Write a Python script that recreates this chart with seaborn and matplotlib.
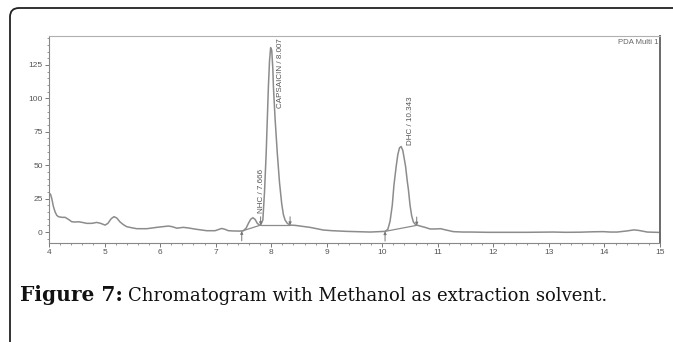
import matplotlib
matplotlib.use('Agg')
import matplotlib.pyplot as plt
import seaborn as sns
from matplotlib.patches import FancyBboxPatch
from matplotlib.transforms import IdentityTransform
from matplotlib.ticker import MultipleLocator

# retention time (min) and detector signal (mAU)
time = [4.00, 4.03, 4.05, 4.08, 4.11, 4.14, 4.17, 4.23, 4.29, 4.35, 4.41, 4.47, 4.53, 4.60,
        4.68, 4.77, 4.86, 4.93, 5.01, 5.06, 5.12, 5.17, 5.22, 5.28, 5.34, 5.40, 5.49, 5.58,
        5.76, 5.94, 6.05, 6.15, 6.22, 6.30, 6.42, 6.52, 6.63, 6.75, 6.84, 6.99, 7.06, 7.11,
        7.17, 7.23, 7.33, 7.44, 7.50, 7.55, 7.59, 7.63, 7.67, 7.71, 7.75, 7.79, 7.81, 7.85,
        7.88, 7.91, 7.93, 7.95, 7.97, 7.99, 8.01, 8.03, 8.04, 8.07, 8.11, 8.15, 8.19, 8.22,
        8.25, 8.29, 8.34, 8.43, 8.52, 8.61, 8.70, 8.82, 8.94, 9.10, 9.36, 9.60, 9.78, 9.95,
        10.05, 10.10, 10.14, 10.18, 10.21, 10.25, 10.28, 10.31, 10.34, 10.37, 10.40, 10.42,
        10.45, 10.47, 10.50, 10.53, 10.56, 10.60, 10.64, 10.68, 10.77, 10.86, 10.95, 11.05,
        11.15, 11.28, 11.45, 11.59, 11.90, 12.18, 12.60, 13.08, 13.30, 13.57, 13.80, 13.98,
        14.10, 14.23, 14.40, 14.53, 14.62, 14.77, 14.90, 15.00]
signal = [29.4, 28.0, 25.0, 19.0, 15.0, 12.5, 11.5, 11.0, 11.0, 9.5, 7.7, 7.5, 7.7, 7.2,
          6.5, 6.5, 7.2, 6.5, 5.2, 6.5, 10.0, 11.5, 10.5, 7.5, 5.5, 4.0, 3.2, 2.5,
          2.5, 3.5, 4.0, 4.5, 4.0, 2.9, 3.5, 3.0, 2.2, 1.5, 1.0, 1.0, 2.0, 2.7,
          2.0, 1.0, 0.8, 0.7, 1.0, 3.0, 6.5, 9.5, 10.7, 9.5, 6.5, 5.2, 5.2, 9.0,
          30.0, 59.0, 85.0, 109.0, 128.0, 138.0, 136.0, 122.0, 109.0, 85.0, 59.0, 37.0, 21.0, 13.0,
          9.0, 6.5, 5.2, 5.0, 4.5, 4.0, 3.5, 2.5, 1.5, 1.0, 0.5, 0.2, 0.0, 0.3,
          0.5, 2.0, 8.0, 20.0, 35.0, 49.0, 58.0, 63.0, 64.0, 61.0, 54.0, 49.0,
          38.0, 32.0, 20.0, 12.0, 7.5, 5.5, 5.0, 4.5, 3.5, 2.3, 2.3, 2.5,
          1.5, 0.3, 0.0, 0.0, -0.2, -0.2, -0.2, 0.0, -0.2, -0.1, 0.2, 0.3,
          0.0, 0.0, 0.8, 1.6, 1.2, 0.0, -0.2, -0.3]

# integration baselines (start/end of each peak)
base_start_t = [7.47, 7.81, 10.05]
base_start_y = [0.7, 5.2, 0.5]
base_end_t = [7.81, 8.34, 10.62]
base_end_y = [5.2, 5.2, 5.0]

peak_labels = ['NHC / 7.666', 'CAPSAICIN / 8.007', 'DHC / 10.343']
label_t = [7.82, 8.17, 10.51]
label_y = [14, 93, 65]

y_ticks = [0, 25, 50, 75, 100, 125]
x_ticks = list(range(4, 16))

sns.set_style('ticks')
plt.rcParams['font.family'] = ['Liberation Sans', 'DejaVu Sans']

fig = plt.figure(figsize=(6.73, 3.42), dpi=100)
ax = fig.add_axes([49 / 673, 1 - 243 / 342, 611 / 673, 207 / 342])

trace = '#8c8c8c'
sns.lineplot(x=time, y=signal, ax=ax, sort=False, estimator=None, color=trace, lw=1.1)

for t0, y0, t1, y1 in zip(base_start_t, base_start_y, base_end_t, base_end_y):
    ax.plot([t0, t1], [y0, y1], color=trace, lw=0.9)

arrow = dict(arrowstyle='-|>', color='#777777', lw=0.7, mutation_scale=4, shrinkA=0, shrinkB=0)
for t0, y0 in [(7.47, 0.7), (10.05, 0.5)]:
    ax.annotate('', xy=(t0, y0), xytext=(0, -7), textcoords='offset points', arrowprops=arrow)
for t1, y1 in [(7.81, 5.2), (8.34, 5.2), (10.62, 5.0)]:
    ax.annotate('', xy=(t1, y1), xytext=(0, 6), textcoords='offset points', arrowprops=arrow)

for lab, t, y in zip(peak_labels, label_t, label_y):
    ax.text(t, y, lab, rotation=90, ha='center', va='bottom', fontsize=5.8,
            color='#555555', family=['Liberation Sans Narrow', 'Liberation Sans'])

ax.text(0.997, 0.985, 'PDA Multi 1', transform=ax.transAxes, ha='right', va='top',
        fontsize=5.6, color='#666666')

ax.set_xlim(4, 15)
ax.set_ylim(-8.2, 146.7)
ax.set_xticks(x_ticks)
ax.set_yticks(y_ticks)
ax.xaxis.set_minor_locator(MultipleLocator(0.2))
ax.yaxis.set_minor_locator(MultipleLocator(5))
ax.tick_params(which='major', length=3, width=0.7, color='#777777', labelsize=6,
               labelcolor='#555555', pad=1.5)
ax.tick_params(which='minor', length=1.6, width=0.6, color='#888888')
ax.set_xlabel('')
ax.set_ylabel('')

for side in ['left', 'bottom']:
    ax.spines[side].set_color('#888888')
    ax.spines[side].set_linewidth(0.8)
ax.spines['top'].set_color('#b0b0b0')
ax.spines['top'].set_linewidth(0.8)
ax.spines['right'].set_color('#6a6a6a')
ax.spines['right'].set_linewidth(1.4)

# outer frame of the figure box
frame = FancyBboxPatch((10, -30), 700, 364, boxstyle='round,pad=0,rounding_size=9',
                       transform=IdentityTransform(), fill=False, edgecolor='#222222', lw=1.3)
fig.add_artist(frame)

serif = ['DejaVu Serif']
t_bold = fig.text(20 / 673, 1 - 301 / 342, 'Figure 7:', fontsize=14.5, fontweight='bold',
                  family=serif, va='baseline', color='#111111')
fig.canvas.draw()
bb = t_bold.get_window_extent()
fig.text((bb.x1 + 5) / 673, 1 - 301 / 342, 'Chromatogram with Methanol as extraction solvent.',
         fontsize=13, family=serif, va='baseline', color='#111111')

fig.savefig('out.png', dpi=100)
